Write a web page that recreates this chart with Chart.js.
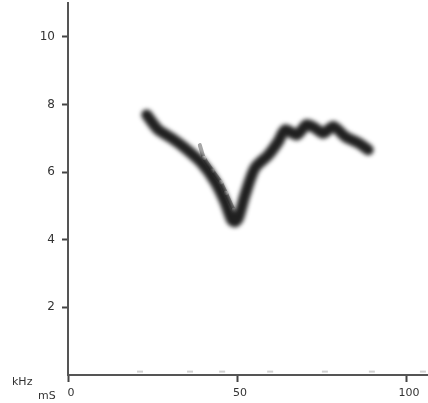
<!DOCTYPE html>
<html><head><meta charset="utf-8">
<script src="https://cdn.jsdelivr.net/npm/chart.js@4"></script>
<style>html,body{margin:0;padding:0;background:#fff}#wrap{width:428px;height:403px}</style>
</head><body><div id="wrap"><canvas id="c" width="428" height="403"></canvas></div>
<script>
// Main call contour (time in ms, frequency in kHz)
const mainMs  = [23.3, 26.7, 30.7, 34.6, 39.6, 43.5, 46.4, 48.4, 49.4, 50.4, 52.4, 55.3, 59.3, 62.2, 64.2, 67.7, 70.6, 73.1, 75.5, 78.5, 82.0, 85.9, 88.8];
const mainKHz = [7.69, 7.25, 7.00, 6.71, 6.26, 5.72, 5.13, 4.59, 4.53, 4.64, 5.33, 6.12, 6.51, 6.90, 7.25, 7.10, 7.40, 7.30, 7.15, 7.35, 7.05, 6.86, 6.66];
// Faint harmonic trace
const faintMs  = [39.0, 40.2, 42.7, 45.2, 46.7, 49.0];
const faintKHz = [6.80, 6.42, 6.04, 5.70, 5.38, 4.88];
// Baseline noise specks
const noiseMs  = [21.3, 36.1, 45.6, 59.8, 76.0, 89.9, 105.0];
const noiseKHz = [0.1, 0.1, 0.1, 0.1, 0.1, 0.1, 0.1];
const xTicks = [0, 50, 100];
const yTicks = [2, 4, 6, 8, 10];
const xUnit = 'mS';
const yUnit = 'kHz';

const pts = (xs, ys) => xs.map((x, i) => ({x, y: ys[i]}));
const FONT = '"DejaVu Sans", Verdana, sans-serif';

const blurPlugin = {
  id: 'blur',
  beforeDatasetDraw(chart, args) {
    const ctx = chart.ctx;
    ctx.save();
    ctx.filter = args.index === 0 ? 'blur(2.2px)' : 'blur(0.5px)';
  },
  afterDatasetDraw(chart) { chart.ctx.restore(); }
};
const unitPlugin = {
  id: 'units',
  afterDraw(chart) {
    const ctx = chart.ctx;
    ctx.save();
    ctx.fillStyle = '#333';
    ctx.font = '11px ' + FONT;
    ctx.textBaseline = 'middle';
    ctx.fillText(yUnit, 12, 382);
    ctx.fillText(xUnit, 38, 396);
    ctx.restore();
  }
};
const noPad = s => { s.paddingTop = 0; s.paddingBottom = 0; s.paddingLeft = 0; s.paddingRight = 0; };

new Chart(document.getElementById('c'), {
  type: 'line',
  data: {
    datasets: [
      { data: pts(mainMs, mainKHz), borderColor: 'rgba(20,20,20,0.95)', borderWidth: 11, pointRadius: 0, tension: 0.25, borderCapStyle: 'round', borderJoinStyle: 'round' },
      { data: pts(faintMs, faintKHz), borderColor: 'rgba(130,130,130,0.7)', borderWidth: 4, borderCapStyle: 'round', pointRadius: [0, 2.2, 2.2, 2.2, 2.2, 2.2], pointBackgroundColor: '#ffffff', pointBorderWidth: 0, tension: 0.2 },
      { data: pts(noiseMs, noiseKHz), showLine: false, pointStyle: 'line', pointRadius: 3, borderColor: 'rgba(190,190,190,0.7)', borderWidth: 2 }
    ]
  },
  options: {
    responsive: false, animation: false, maintainAspectRatio: false,
    layout: { autoPadding: false, padding: { top: 3, right: 0, left: 0, bottom: 0 } },
    plugins: { legend: { display: false }, tooltip: { enabled: false } },
    scales: {
      x: {
        type: 'linear', min: 0, max: 106.5,
        afterFit(s) { s.height = 28; noPad(s); },
        afterBuildTicks(s) { s.ticks = xTicks.map(v => ({value: v})); },
        grid: { drawOnChartArea: false, tickLength: 7, color: '#444', tickWidth: 2 },
        border: { color: '#555', width: 2 },
        ticks: { color: '#333', font: { size: 11, family: FONT }, padding: 5, maxRotation: 0, labelOffset: 3 }
      },
      y: {
        type: 'linear', min: 0, max: 11,
        afterFit(s) { s.width = 68; noPad(s); },
        afterBuildTicks(s) { s.ticks = yTicks.map(v => ({value: v})); },
        grid: { drawOnChartArea: false, tickLength: 6, color: '#444', tickWidth: 2 },
        border: { color: '#555', width: 2 },
        ticks: { color: '#333', font: { size: 12, family: FONT }, padding: 7 }
      }
    }
  },
  plugins: [blurPlugin, unitPlugin]
});
</script></body></html>
